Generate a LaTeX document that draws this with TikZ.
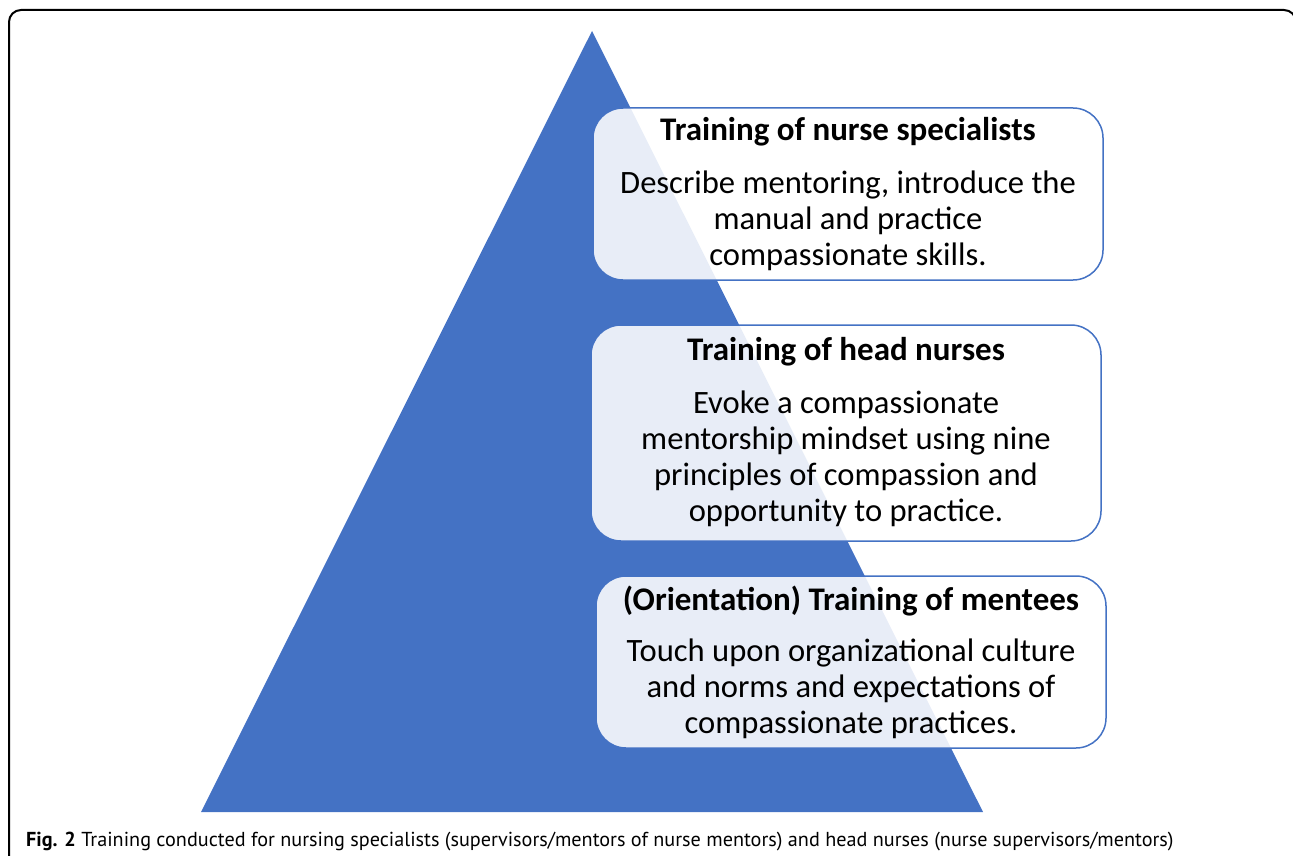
\documentclass[tikz,border=0pt]{standalone}
\usepackage{fontspec}
\setmainfont{Carlito}
\newfontfamily\capfont{PT Sans}
\definecolor{tri}{HTML}{4472C4}
\begin{document}
\begin{tikzpicture}[x=1pt,y=-1pt,
  box/.style={draw=tri,line width=1.5pt,fill=white,fill opacity=0.88,rounded corners=30pt},
  ttl/.style={font=\fontsize{33}{38}\selectfont\bfseries,anchor=center,inner sep=0pt},
  bdy/.style={font=\fontsize{32.6}{36}\selectfont,align=center,anchor=north,inner sep=0pt}]
\useasboundingbox (0,0) rectangle (1293,856);
\draw[line width=2pt,rounded corners=12pt] (9,900) -- (9,10) -- (1296,10) -- (1296,900);
\fill[tri] (592,31) coordinate (apex) -- (983,812) coordinate (br) -- (201,812) coordinate (bl) -- cycle;
\draw[box] (593,108) rectangle (1103,280);
\draw[box] (591,325) rectangle (1101,541);
\draw[box] (596,576) rectangle (1106,748);
\node[ttl] (t1) at (848,132) {Training of nurse specialists};
\node[bdy] (b1) at (848,171) {Describe mentoring, introduce the\\manual and practice\\compassionate skills.};
\node[ttl] (t2) at (846,352) {Training of head nurses};
\node[bdy] (b2) at (846,391) {Evoke a compassionate\\mentorship mindset using nine\\principles of compassion and\\opportunity to practice.};
\node[ttl] (t3) at (851,601) {(Orientation) Training of mentees};
\node[bdy] (b3) at (851,639) {Touch upon organizational culture\\and norms and expectations of\\compassionate practices.};
\node[anchor=base west,inner sep=0pt,font=\capfont\fontsize{20.2}{24}\selectfont] (cap) at (26,846) {\textbf{Fig. 2} Training conducted for nursing specialists (supervisors/mentors of nurse mentors) and head nurses (nurse supervisors/mentors)};
\end{tikzpicture}
\end{document}
